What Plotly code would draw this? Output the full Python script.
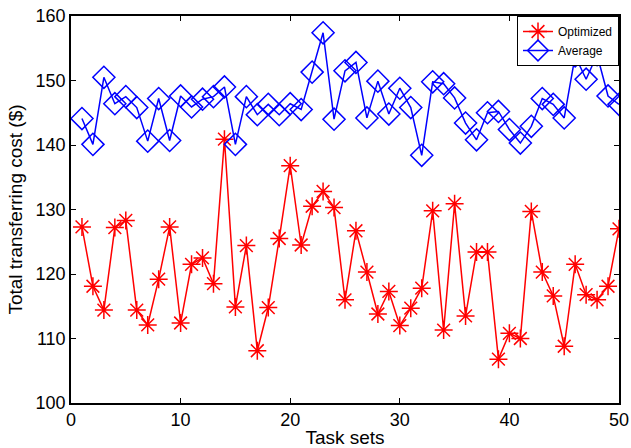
import plotly.graph_objects as go

task_sets = list(range(1, 51))
optimized = [127.3, 118.1, 114.4, 127.2, 128.3, 114.4, 112.1, 119.2, 127.3, 112.4,
             121.5, 122.5, 118.5, 140.9, 114.9, 124.4, 108.1, 114.8, 125.5, 136.8,
             124.5, 130.5, 132.8, 130.3, 116.0, 126.7, 120.3, 113.8, 117.3, 112.0,
             114.7, 117.8, 129.8, 111.3, 130.9, 113.5, 123.4, 123.4, 106.8, 110.8,
             110.0, 129.7, 120.3, 116.6, 108.8, 121.5, 116.8, 116.0, 118.1, 127.0]
average = [144.1, 140.1, 150.5, 146.4, 147.5, 145.8, 140.6, 147.2, 140.7, 147.6,
           145.9, 147.1, 147.5, 149.0, 140.1, 147.5, 144.7, 146.3, 144.7, 146.4,
           145.5, 151.3, 157.4, 144.0, 151.5, 152.8, 144.2, 149.9, 144.8, 148.8,
           145.8, 138.4, 149.8, 149.5, 147.3, 143.4, 140.8, 145.0, 145.2, 142.4,
           140.3, 142.9, 147.2, 146.3, 144.2, 153.8, 150.2, 154.0, 147.6, 146.3]

x_ticks = [0, 10, 20, 30, 40, 50]
y_ticks = [100, 110, 120, 130, 140, 150, 160]

FONT = "Liberation Sans, Arial, sans-serif"

fig = go.Figure()
fig.add_trace(go.Scatter(
    x=task_sets, y=optimized, name="Optimized", mode="lines+markers",
    line=dict(color="#ff0000", width=1.5),
    marker=dict(symbol="asterisk-open", size=15, color="#ff0000",
                line=dict(color="#ff0000", width=1.5)),
))
fig.add_trace(go.Scatter(
    x=task_sets, y=average, name="Average", mode="lines+markers",
    line=dict(color="#0000ff", width=1.5),
    marker=dict(symbol="diamond-open", size=17, color="#0000ff",
                line=dict(color="#0000ff", width=1.5)),
))

axis_common = dict(
    showline=True, linecolor="black", linewidth=1.5, mirror="allticks",
    ticks="inside", ticklen=5, tickwidth=1, tickcolor="black",
    showgrid=False, zeroline=False, automargin=False,
    tickfont=dict(family=FONT, size=18, color="black"),
)

fig.update_xaxes(range=[0, 50], tickvals=x_ticks,
                 title=dict(text="Task sets", font=dict(family=FONT, size=19, color="black"), standoff=6),
                 **axis_common)
fig.update_yaxes(range=[100, 160], tickvals=y_ticks,
                 title=dict(text="Total transferring cost ($)", font=dict(family=FONT, size=19, color="black"), standoff=8),
                 **axis_common)

fig.update_layout(
    width=631, height=448,
    margin=dict(l=71, r=12, t=16, b=45),
    paper_bgcolor="white", plot_bgcolor="white",
    font=dict(family=FONT, color="black"),
    legend=dict(x=1, y=1, xanchor="right", yanchor="top",
                bordercolor="black", borderwidth=1, bgcolor="white",
                font=dict(family=FONT, size=12, color="black"),
                itemwidth=30, tracegroupgap=0),
    showlegend=True,
)

fig.write_html("out.html")
